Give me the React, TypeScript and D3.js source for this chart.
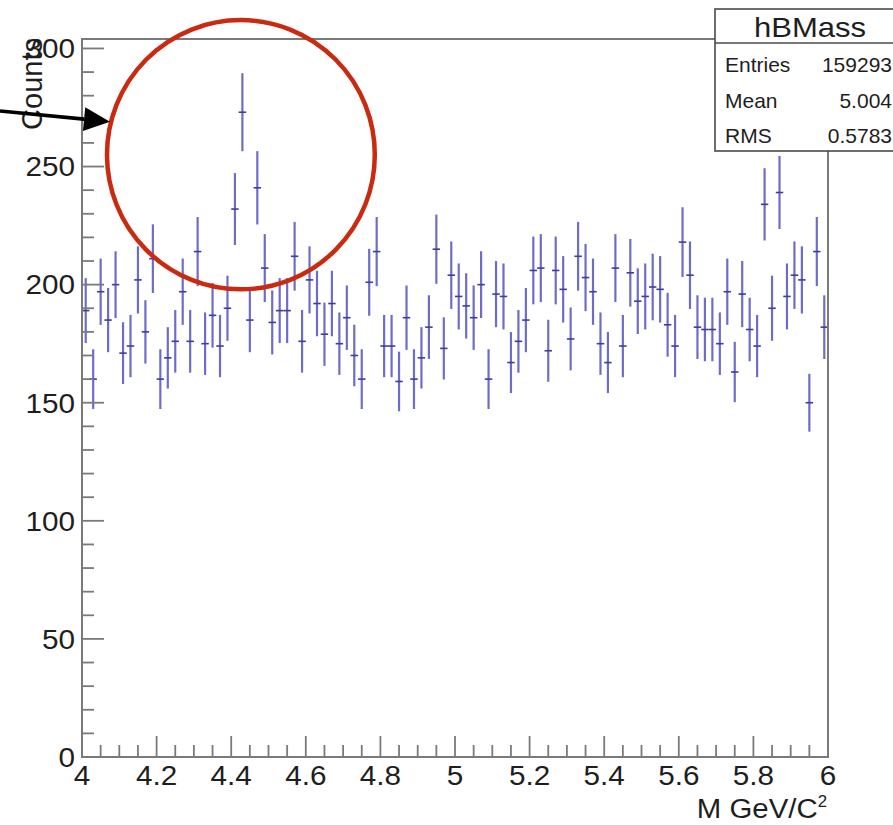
import React from "react";
import * as d3 from "d3";

// Histogram hBMass: invariant-mass spectrum, 100 bins of 0.02 GeV/c^2 from 4 to 6
const histName = "hBMass";
const xTitle = "M GeV/C";
const xTitleSup = "2";
const yTitle = "Counts";
const binLow = 4;
const binHigh = 6;
const binWidth = 0.02;
const counts = [
  189, 160, 197, 185, 200, 171, 174, 202, 180, 211,
  160, 169, 176, 197, 176, 214, 175, 187, 174, 190,
  232, 273, 185, 241, 207, 184, 189, 189, 212, 176,
  202, 192, 179, 192, 175, 186, 170, 160, 201, 214,
  174, 174, 159, 186, 160, 169, 182, 215, 173, 204,
  195, 191, 186, 200, 160, 196, 195, 167, 176, 185,
  206, 207, 172, 206, 198, 177, 212, 203, 197, 175,
  167, 207, 174, 205, 193, 195, 199, 198, 183, 174,
  218, 204, 182, 181, 181, 175, 197, 163, 196, 181,
  174, 234, 190, 239, 195, 204, 202, 150, 214, 182,
];
const yMax = 304;
const xMajorTicks = [4, 4.2, 4.4, 4.6, 4.8, 5, 5.2, 5.4, 5.6, 5.8, 6];
const xTickLabels = ["4", "4.2", "4.4", "4.6", "4.8", "5", "5.2", "5.4", "5.6", "5.8", "6"];
const yMajorTicks = [0, 50, 100, 150, 200, 250, 300];
const yTickLabels = ["0", "50", "100", "150", "200", "250", "300"];
const statLabels = ["Entries", "Mean", "RMS"];
const statValues = ["159293", "5.004", "0.5783"];

// Highlight annotation around the excess near 4.43 GeV (data units)
const highlightCenter = { m: 4.426, n: 255 };
const highlightRadius = { m: 0.359, n: 57 };
const arrowFrom = { m: 3.78, n: 273.5 };
const arrowTo = { m: 4.075, n: 269 };

const W = 893;
const H = 825;
const frame = { left: 82, right: 828, top: 39, bottom: 757 };
const FONT = "'Liberation Sans', Arial, Helvetica, sans-serif";
const AXIS = "#7a7a7a";
const TEXT = "#1e1e1e";

function Label(props: {
  x: number;
  y: number;
  size: number;
  anchor?: "start" | "middle" | "end";
  sx?: number;
  rotate?: number;
  fill?: string;
  children: React.ReactNode;
}) {
  const { x, y, size, anchor = "start", sx = 1, rotate = 0, fill = TEXT, children } = props;
  return (
    <text
      transform={`translate(${x},${y}) rotate(${rotate}) scale(${sx},1)`}
      fontSize={size}
      fontFamily={FONT}
      textAnchor={anchor}
      fill={fill}
    >
      {children}
    </text>
  );
}

export default function App() {
  const x = d3.scaleLinear().domain([binLow, binHigh]).range([frame.left, frame.right]);
  const y = d3.scaleLinear().domain([0, yMax]).range([frame.bottom, frame.top]);

  const xMinor = d3.range(0, 41).filter((i) => i % 4 !== 0).map((i) => binLow + i * 0.05);
  const yMinor = d3.range(0, 31).filter((i) => i % 5 !== 0).map((i) => i * 10);

  const bins = counts.map((c, i) => {
    const lo = binLow + i * binWidth;
    const err = Math.sqrt(c);
    return { lo, hi: lo + binWidth, mid: lo + binWidth / 2, c, err };
  });

  const cx = x(highlightCenter.m);
  const cy = y(highlightCenter.n);
  const rx = x(highlightCenter.m + highlightRadius.m) - cx;
  const ry = cy - y(highlightCenter.n + highlightRadius.n);

  // Arrow geometry
  const ax0 = x(arrowFrom.m);
  const ay0 = y(arrowFrom.n);
  const ax1 = x(arrowTo.m);
  const ay1 = y(arrowTo.n);
  const ang = Math.atan2(ay1 - ay0, ax1 - ax0);
  const headLen = 26;
  const headHalf = 12;
  const bx = ax1 - headLen * Math.cos(ang);
  const by = ay1 - headLen * Math.sin(ang);
  const head = [
    [ax1, ay1],
    [bx + headHalf * Math.sin(ang), by - headHalf * Math.cos(ang)],
    [bx - headHalf * Math.sin(ang), by + headHalf * Math.cos(ang)],
  ];

  const statsBox = { x: 715, y: 9, w: 190, h: 142, header: 43 };

  return (
    <svg
      width={W}
      height={H}
      viewBox={`0 0 ${W} ${H}`}
      style={{ position: "absolute", left: 0, top: 0, background: "#fff" }}
    >
      <rect x={0} y={0} width={W} height={H} fill="#fff" />

      {/* error-bar markers */}
      <g>
        {bins.map((b, i) => (
          <g key={i}>
            <line
              x1={x(b.mid)}
              x2={x(b.mid)}
              y1={y(b.c - b.err)}
              y2={y(b.c + b.err)}
              stroke="#6d6dc9"
              strokeWidth={2.2}
            />
            <line
              x1={x(b.lo)}
              x2={x(b.hi)}
              y1={y(b.c)}
              y2={y(b.c)}
              stroke="#3c3ca6"
              strokeWidth={1.6}
            />
          </g>
        ))}
      </g>

      {/* frame */}
      <rect
        x={frame.left}
        y={frame.top}
        width={frame.right - frame.left}
        height={frame.bottom - frame.top}
        fill="none"
        stroke={AXIS}
        strokeWidth={2}
      />

      {/* y axis ticks */}
      <g stroke={AXIS} strokeWidth={1.8}>
        {yMajorTicks.map((v) => (
          <line key={"ym" + v} x1={frame.left} x2={frame.left + 22} y1={y(v)} y2={y(v)} />
        ))}
        {yMinor.map((v) => (
          <line key={"yn" + v} x1={frame.left} x2={frame.left + 12} y1={y(v)} y2={y(v)} />
        ))}
        {xMajorTicks.map((v) => (
          <line key={"xm" + v} x1={x(v)} x2={x(v)} y1={frame.bottom} y2={frame.bottom - 21} />
        ))}
        {xMinor.map((v) => (
          <line key={"xn" + v} x1={x(v)} x2={x(v)} y1={frame.bottom} y2={frame.bottom - 12} />
        ))}
      </g>

      {/* tick labels */}
      {yMajorTicks.map((v, i) => (
        <Label key={"yl" + v} x={75} y={y(v) + 9.8} size={27} anchor="end" sx={1.1}>
          {yTickLabels[i]}
        </Label>
      ))}
      {xMajorTicks.map((v, i) => (
        <Label key={"xl" + v} x={x(v)} y={785} size={27} anchor="middle" sx={1.1}>
          {xTickLabels[i]}
        </Label>
      ))}

      {/* axis titles */}
      <Label x={42} y={38} size={29} anchor="end" rotate={-90}>
        {yTitle}
      </Label>
      <text
        transform={`translate(${frame.right - 1},818) scale(1.05,1)`}
        fontSize={28}
        fontFamily={FONT}
        textAnchor="end"
        fill={TEXT}
      >
        {xTitle}
        <tspan fontSize={16} dy={-11}>
          {xTitleSup}
        </tspan>
      </text>

      {/* statistics box */}
      <rect
        x={statsBox.x}
        y={statsBox.y}
        width={statsBox.w}
        height={statsBox.h}
        fill="#fff"
        stroke="#4a4a4a"
        strokeWidth={1.6}
      />
      <line
        x1={statsBox.x}
        x2={statsBox.x + statsBox.w}
        y1={statsBox.header}
        y2={statsBox.header}
        stroke="#4a4a4a"
        strokeWidth={1.6}
      />
      <Label x={statsBox.x + statsBox.w / 2} y={37} size={27} anchor="middle" sx={1.15}>
        {histName}
      </Label>
      {statLabels.map((s, i) => (
        <g key={s}>
          <Label x={725} y={72 + i * 35.5} size={21}>
            {s}
          </Label>
          <Label x={892} y={72 + i * 35.5} size={21} anchor="end">
            {statValues[i]}
          </Label>
        </g>
      ))}

      {/* highlight annotation */}
      <ellipse cx={cx} cy={cy} rx={rx} ry={ry} fill="none" stroke="#c92a10" strokeWidth={4.5} />
      <line x1={ax0} y1={ay0} x2={bx} y2={by} stroke="#000" strokeWidth={3.6} />
      <polygon points={head.map((p) => p.join(",")).join(" ")} fill="#000" />
    </svg>
  );
}
